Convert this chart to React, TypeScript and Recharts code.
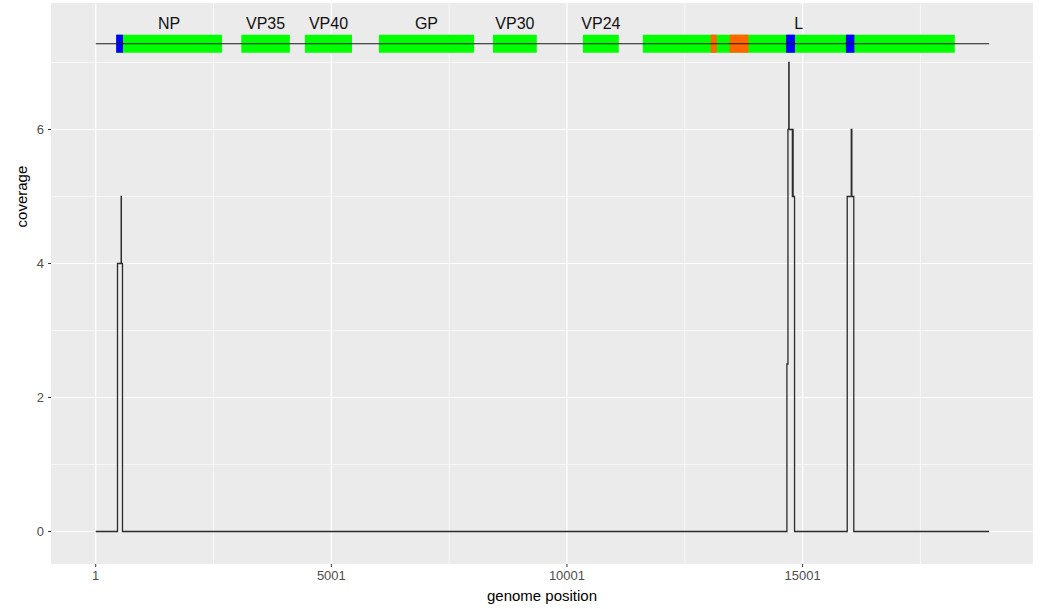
import {
	ComposedChart,
	Line,
	XAxis,
	YAxis,
	CartesianGrid,
	ReferenceArea,
	ReferenceLine,
} from "recharts";

// coverage as a step function (genome position, depth)
const covPos = [
	1, 463, 541, 545, 569, 14668, 14690, 14708, 14714, 14784, 14788, 14792,
	14796, 14800, 14830, 15948, 16034, 16038, 16042, 16046, 16087, 18959,
];
const covVal = [0, 4, 5, 4, 0, 2.5, 6, 7, 6, 5, 6, 5, 6, 5, 0, 5, 6, 5, 6, 5, 0, 0];

const geneNames = ["NP", "VP35", "VP40", "GP", "VP30", "VP24", "L"];
const geneStarts = [440, 3090, 4440, 6010, 8430, 10340, 11610];
const geneEnds = [2680, 4120, 5440, 8030, 9360, 11100, 18230];

// highlighted regions inside genes
const regionStarts = [435, 13050, 13450, 14650, 15920];
const regionEnds = [580, 13180, 13850, 14840, 16100];
const regionKinds = ["blue", "orange", "orange", "blue", "blue"];

const genomeLength = 18959;
const trackY = 7.28;
const boxLow = 7.146;
const boxHigh = 7.415;

const xTicks = [1, 5001, 10001, 15001];
const xMinor = [2501, 7501, 12501, 17501];
const yTicks = [0, 2, 4, 6];
const yMinor = [1, 3, 5, 7];

const data = covPos.map((p, i) => ({ pos: p, cov: covVal[i] }));

const regionColor: Record<string, string> = {
	blue: "#0000FF",
	orange: "#FF6600",
};

const font = "Liberation Sans, Arial, sans-serif";
const tickStyle = { fontSize: 13, fill: "#4D4D4D", fontFamily: font };

export default function App() {
	return (
		<div style={{ position: "absolute", left: 0, top: 0 }}>
			<ComposedChart
				width={1040}
				height={609}
				data={data}
				margin={{ top: 3, right: 7, left: 0, bottom: 0 }}
			>
				<CartesianGrid
					fill="#EBEBEB"
					stroke="#FFFFFF"
					strokeWidth={0.6}
					verticalValues={xMinor}
					horizontalValues={yMinor}
				/>
				<CartesianGrid
					stroke="#FFFFFF"
					strokeWidth={1.2}
					verticalValues={xTicks}
					horizontalValues={yTicks}
				/>
				<XAxis
					type="number"
					dataKey="pos"
					domain={[-948, 19890]}
					ticks={xTicks}
					allowDataOverflow
					axisLine={false}
					tickLine={{ stroke: "#333333" }}
					tickSize={3}
					tickMargin={4}
					tick={tickStyle}
					height={45}
					label={{
						value: "genome position",
						position: "insideBottom",
						offset: 8,
						style: { fontSize: 15, fill: "#000000", fontFamily: font },
					}}
				/>
				<YAxis
					type="number"
					domain={[-0.485, 7.888]}
					ticks={yTicks}
					allowDataOverflow
					axisLine={false}
					tickLine={{ stroke: "#333333" }}
					tickSize={3}
					tickMargin={4}
					tick={tickStyle}
					width={51}
					label={(props: any) => {
						const vb = props.viewBox || { x: 0, y: 3, height: 561 };
						const x = 22;
						const y = vb.y + vb.height * 0.345;
						return (
							<text
								x={x}
								y={y}
								transform={`rotate(-90 ${x} ${y})`}
								textAnchor="middle"
								dominantBaseline="central"
								fontSize={15}
								fill="#000000"
								fontFamily={font}
							>
								coverage
							</text>
						);
					}}
				/>
				<ReferenceLine
					segment={[
						{ x: 1, y: trackY },
						{ x: genomeLength, y: trackY },
					]}
					stroke="#1A1A1A"
					strokeWidth={1.1}
				/>
				{geneNames.map((g, i) => (
					<ReferenceArea
						key={g}
						x1={geneStarts[i]}
						x2={geneEnds[i]}
						y1={boxLow}
						y2={boxHigh}
						fill="#00FF00"
						fillOpacity={1}
						stroke="none"
						label={{
							value: g,
							position: "top",
							offset: 6,
							style: { fontSize: 16, fill: "#111111", fontFamily: font },
						}}
					/>
				))}
				{regionStarts.map((s, i) => (
					<ReferenceArea
						key={"r" + i}
						x1={s}
						x2={regionEnds[i]}
						y1={boxLow}
						y2={boxHigh}
						fill={regionColor[regionKinds[i]]}
						fillOpacity={1}
						stroke="none"
					/>
				))}
				<Line
					type="stepAfter"
					dataKey="cov"
					stroke="#2B2B2B"
					strokeWidth={1.3}
					dot={false}
					activeDot={false}
					isAnimationActive={false}
				/>
			</ComposedChart>
		</div>
	);
}
